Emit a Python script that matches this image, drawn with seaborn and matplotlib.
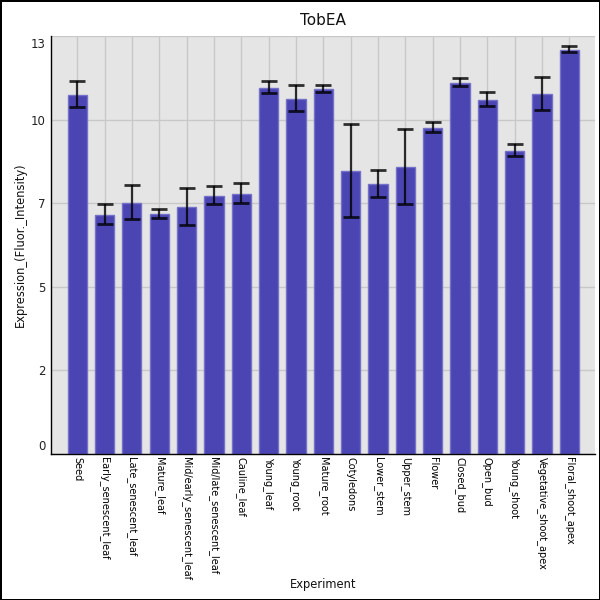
import numpy as np
import pandas as pd
import matplotlib
matplotlib.use("Agg")
import matplotlib.pyplot as plt
import seaborn as sns
from matplotlib.ticker import FixedLocator, FuncFormatter
from matplotlib.transforms import ScaledTranslation

categories = ["Seed", "Early_senescent_leaf", "Late_senescent_leaf", "Mature_leaf",
              "Mid/early_senescent_leaf", "Mid/late_senescent_leaf", "Cauline_leaf",
              "Young_leaf", "Young_root", "Mature_root", "Cotyledons", "Lower_stem",
              "Upper_stem", "Flower", "Closed_bud", "Open_bud", "Young_shoot",
              "Vegetative_shoot_apex", "Floral_shoot_apex"]
values = [11.34, 7.55, 7.93, 7.58, 7.80, 8.15, 8.21, 11.56, 11.21, 11.52,
          8.94, 8.53, 9.06, 10.29, 11.71, 11.18, 9.57, 11.37, 12.76]
err_high = [11.78, 7.89, 8.50, 7.75, 8.39, 8.45, 8.55, 11.78, 11.66, 11.65,
            10.42, 8.97, 10.25, 10.48, 11.87, 11.43, 9.78, 11.89, 12.90]
err_low = [10.96, 7.25, 7.41, 7.45, 7.23, 7.89, 7.93, 11.41, 10.84, 11.43,
           7.47, 8.11, 7.89, 10.17, 11.61, 10.98, 9.41, 10.85, 12.68]

title = "TobEA"
xlabel = "Experiment"
ylabel = "Expression_(Fluor._Intensity)"
ymax = 13.2

df = pd.DataFrame({"Experiment": categories, "Value": values})

sns.set_theme(style="darkgrid")
plt.rcParams["font.family"] = ["DejaVu Sans"]

fig = plt.figure(figsize=(6, 6), dpi=100)
fig.patch.set_facecolor("white")
fig.patch.set_edgecolor("black")
fig.patch.set_linewidth(1.0)
ax = fig.add_axes([51/600, (600-454)/600, (595.3-51)/600, (454-36)/600])
ax.set_facecolor("#e5e5e5")

sns.barplot(data=df, x="Experiment", y="Value", order=categories, ax=ax,
            color="#4a45b2", saturation=1, width=0.7, errorbar=None,
            edgecolor="#7571c9", linewidth=1, zorder=2)

xpos = np.arange(len(categories))
vals = np.array(values)
yerr = np.vstack([vals - np.array(err_low), np.array(err_high) - vals])
ax.errorbar(xpos, vals, yerr=yerr, fmt="none", ecolor="black", elinewidth=1.6,
            capsize=5.8, capthick=2, alpha=0.8, zorder=3)

ax.set_xlim(-0.96, 18.95)
ax.set_ylim(0, ymax)
yt = np.linspace(0, ymax, 6)
ax.yaxis.set_major_locator(FixedLocator(yt))
ax.yaxis.set_major_formatter(FuncFormatter(lambda v, p: str(int(v + 1e-9))))
ax.grid(True, color="#c8c8c8", linewidth=1)
ax.set_axisbelow(True)

for s in ["top", "right"]:
    ax.spines[s].set_visible(False)
for s in ["left", "bottom"]:
    ax.spines[s].set_visible(True)
    ax.spines[s].set_color("black")
    ax.spines[s].set_linewidth(1)

ax.tick_params(axis="y", length=0, pad=4, labelsize=8.5, labelcolor="#222222")
ax.tick_params(axis="x", length=0, pad=2, labelsize=7, labelcolor="black")
ax.set_xticks(xpos)
ax.set_xticklabels(categories, rotation=270, ha="center", va="top")

fig.canvas.draw()
ylabs = ax.get_yticklabels()
ylabs[0].set_va("bottom")
ylabs[0].set_transform(ylabs[0].get_transform() + ScaledTranslation(0, 0.5/100, fig.dpi_scale_trans))
ylabs[-1].set_va("center")
ylabs[-1].set_transform(ylabs[-1].get_transform() + ScaledTranslation(0, -9/100, fig.dpi_scale_trans))

ax.set_title(title, fontsize=11, pad=8, color="#111111")
ax.set_xlabel(xlabel, fontsize=8.3, labelpad=-1, color="#111111")
ax.set_ylabel(ylabel, fontsize=8.3, labelpad=3, color="#111111")

fig.savefig("out.png", dpi=100, facecolor=fig.get_facecolor(), edgecolor=fig.get_edgecolor())
